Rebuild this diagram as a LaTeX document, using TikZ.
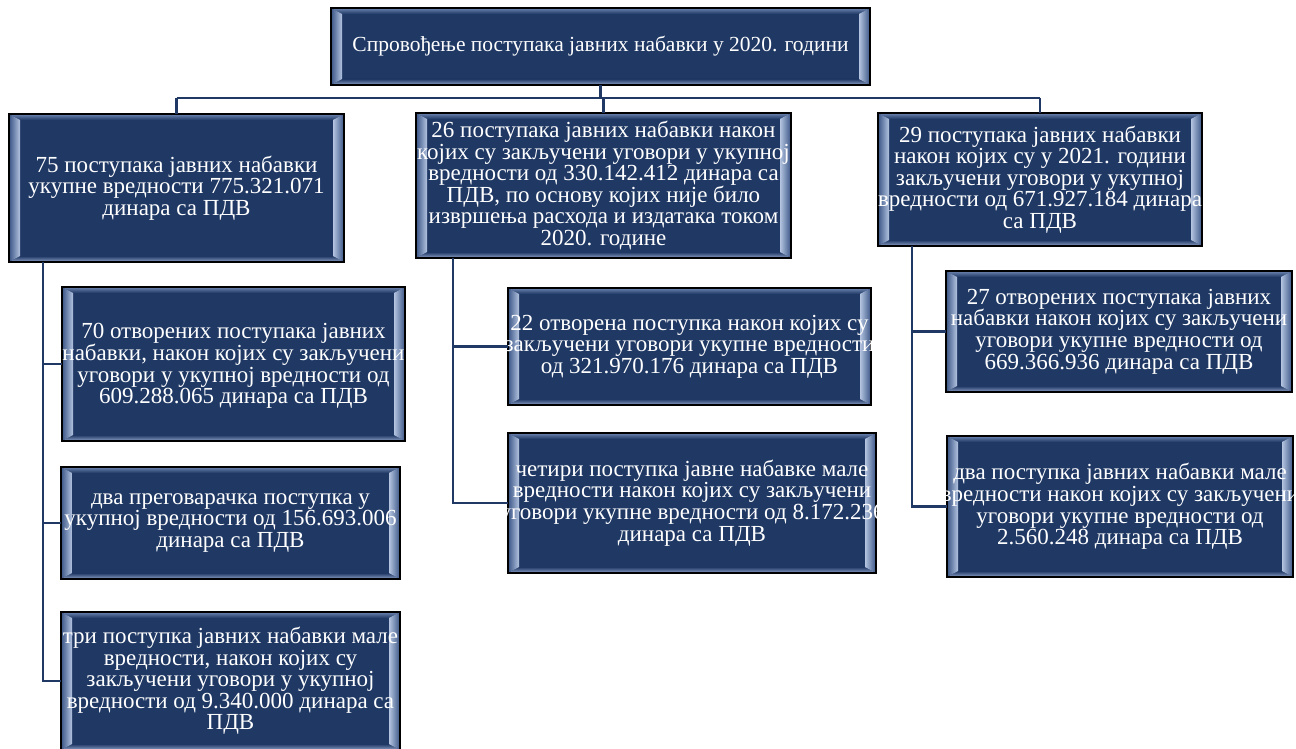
\documentclass[tikz,border=0pt]{standalone}
\usepackage{fontspec}
\setmainfont{Liberation Serif}
\definecolor{navy}{HTML}{1F3864}
\definecolor{bevlight}{HTML}{B4C4E0}
\definecolor{bevdark}{HTML}{3A5585}
\definecolor{bevtop}{HTML}{6D85B0}
\definecolor{bevbot}{HTML}{8FA3C8}
\definecolor{conncol}{HTML}{1F3864}
\newcommand\mybevel{%
  \path (path picture bounding box.north west) coordinate (bNW)
        (path picture bounding box.north east) coordinate (bNE)
        (path picture bounding box.south west) coordinate (bSW)
        (path picture bounding box.south east) coordinate (bSE);
  \shade[top color=bevtop, bottom color=navy] (bNW) -- (bNE) -- ([shift={(-11pt,-6pt)}]bNE) -- ([shift={(11pt,-6pt)}]bNW) -- cycle;
  \shade[top color=navy, bottom color=bevbot] (bSW) -- (bSE) -- ([shift={(-11pt,6pt)}]bSE) -- ([shift={(11pt,6pt)}]bSW) -- cycle;
  \shade[left color=bevdark, right color=bevlight] (bNW) -- ([shift={(11pt,-6pt)}]bNW) -- ([shift={(11pt,6pt)}]bSW) -- (bSW) -- cycle;
  \shade[left color=bevlight, right color=bevdark] (bNE) -- ([shift={(-11pt,-6pt)}]bNE) -- ([shift={(-11pt,6pt)}]bSE) -- (bSE) -- cycle;
}
\tikzset{
  box/.style={draw=black, line width=1.4pt, fill=navy, inner sep=0pt, outer sep=0pt,
    path picture={\mybevel}},
  boxtext/.style={text=white, align=center, inner sep=0pt,
    font=\fontsize{23}{21.6}\selectfont},
  conn/.style={draw=conncol, line width=2.8pt},
}
\begin{document}
\begin{tikzpicture}[x=1pt,y=-1pt]
\useasboundingbox (0,0) rectangle (1296,749);
\node[box, minimum width=539pt, minimum height=77pt] (T) at (600.5,46.5) {};
\node[boxtext, font=\fontsize{21.5}{21.6}\selectfont] (Tt) at (T)
  {Спровођење поступака јавних набавки у 2020. години};
\node[box, minimum width=335pt, minimum height=148pt] (L) at (176.5,188) {};
\node[boxtext] (Lt) at (L)
  {75 поступака јавних набавки\\укупне вредности 775.321.071\\динара са ПДВ};
\node[box, minimum width=375pt, minimum height=145pt] (M) at (603.5,185.5) {};
\node[boxtext] (Mt) at (M)
  {26 поступака јавних набавки након\\којих су закључени уговори у укупној\\вредности од 330.142.412 динара са\\ПДВ, по основу којих није било\\извршења расхода и издатака током\\2020. године};
\node[box, minimum width=324pt, minimum height=133pt] (R) at (1040,179.5) {};
\node[boxtext] (Rt) at (R)
  {29 поступака јавних набавки\\након којих су у 2021. години\\закључени уговори у укупној\\вредности од 671.927.184 динара\\са ПДВ};
\node[box, minimum width=343pt, minimum height=154pt] (L1) at (233.5,364) {};
\node[boxtext] (L1t) at ([yshift=-2pt]L1)
  {70 отворених поступака јавних\\набавки, након којих су закључени\\уговори у укупној вредности од\\609.288.065 динара са ПДВ};
\node[box, minimum width=339pt, minimum height=112pt] (L2) at (230.5,523) {};
\node[boxtext] (L2t) at (L2)
  {два преговарачка поступка у\\укупној вредности од 156.693.006\\динара са ПДВ};
\node[box, minimum width=339pt, minimum height=138pt] (L3) at (230.5,681) {};
\node[boxtext] (L3t) at (L3)
  {три поступка јавних набавки мале\\вредности, након којих су\\закључени уговори у укупној\\вредности од 9.340.000 динара са\\ПДВ};
\node[box, minimum width=363pt, minimum height=117pt] (M1) at (689.5,346.5) {};
\node[boxtext] (M1t) at (M1)
  {22 отворена поступка након којих су\\закључени уговори укупне вредности\\од 321.970.176 динара са ПДВ};
\node[box, minimum width=368pt, minimum height=140pt] (M2) at (692,503) {};
\node[boxtext] (M2t) at (M2)
  {четири поступка јавне набавке мале\\вредности након којих су закључени\\уговори укупне вредности од 8.172.236\\динара са ПДВ};
\node[box, minimum width=346pt, minimum height=121pt] (R1) at (1119,331.5) {};
\node[boxtext] (R1t) at (R1)
  {27 отворених поступака јавних\\набавки након којих су закључени\\уговори укупне вредности од\\669.366.936 динара са ПДВ};
\node[box, minimum width=346pt, minimum height=141pt] (R2) at (1120,506.5) {};
\node[boxtext] (R2t) at (R2)
  {два поступка јавних набавки мале\\вредности након којих су закључени\\уговори укупне вредности од\\2.560.248 динара са ПДВ};
% connectors
\coordinate (bus) at (0,98);
\draw[conn] (T.south) -- (T.south|-bus);
\draw[conn] (L.north|-bus) -- (R.north|-bus);
\draw[conn] (L.north|-bus) -- (L.north);
\draw[conn] (M.north|-bus) -- (M.north);
\draw[conn] (R.north|-bus) -- (R.north);
\coordinate (lv) at ([xshift=34pt]L.south west);
\coordinate (mv) at ([xshift=37pt]M.south west);
\coordinate (rv) at ([xshift=34pt]R.south west);
\draw[conn] (lv) |- (L1.west);
\draw[conn] (lv) |- (L2.west);
\draw[conn] (lv) |- (L3.west);
\draw[conn] (mv) |- (M1.west);
\draw[conn] (mv) |- (M2.west);
\draw[conn] (rv) |- (R1.west);
\draw[conn] (rv) |- (R2.west);
\end{tikzpicture}
\end{document}
